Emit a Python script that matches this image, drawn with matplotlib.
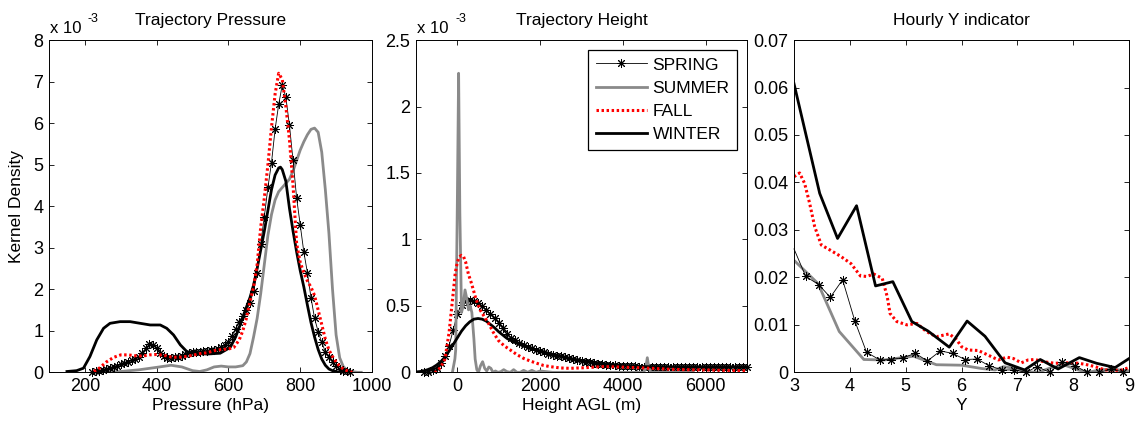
import matplotlib
matplotlib.use('Agg')
import matplotlib.pyplot as plt

plt.rcParams['font.family'] = ['Liberation Sans', 'DejaVu Sans']

# ---------------- Trajectory Pressure (density in units of 1e-3) ----------------
pres_spring_x = [220, 230, 240, 250, 260, 270, 280, 290, 300, 310, 320, 330, 340, 350, 360,
                 370, 380, 390, 400, 410, 420, 430, 440, 450, 460, 470, 480, 490, 500, 510,
                 520, 530, 540, 550, 560, 570, 580, 590, 600, 610, 620, 630, 640, 650, 660,
                 670, 680, 690, 700, 710, 720, 730, 740, 750, 760, 770, 780, 790, 800, 810,
                 820, 830, 840, 850, 860, 870, 880, 890, 900, 910, 920, 930, 940]
pres_spring_y = [0.00, 0.02, 0.04, 0.05, 0.07, 0.10, 0.13, 0.16, 0.19, 0.22, 0.25, 0.29, 0.33, 0.38, 0.47,
                 0.58, 0.67, 0.66, 0.58, 0.47, 0.39, 0.35, 0.35, 0.36, 0.37, 0.40, 0.44, 0.47, 0.48, 0.49,
                 0.50, 0.51, 0.52, 0.53, 0.54, 0.56, 0.60, 0.66, 0.74, 0.88, 1.05, 1.20, 1.35, 1.50, 1.68,
                 1.95, 2.40, 3.10, 3.75, 4.45, 5.05, 5.85, 6.45, 6.92, 6.62, 5.95, 5.10, 4.20, 3.55, 2.90,
                 2.40, 1.80, 1.30, 0.98, 0.72, 0.50, 0.36, 0.25, 0.16, 0.09, 0.04, 0.02, 0.01]

pres_summer_x = [250, 300, 350, 400, 440, 470, 500, 520, 540, 560, 580, 600, 620, 640, 650, 660,
                 670, 680, 690, 700, 710, 720, 730, 740, 750, 760, 770, 780, 790, 800, 810, 820,
                 830, 840, 850, 860, 870, 880, 890, 900, 910, 920, 930, 940, 960, 970]
pres_summer_y = [0.0, 0.02, 0.06, 0.12, 0.17, 0.13, 0.04, 0.02, 0.06, 0.13, 0.15, 0.13, 0.13, 0.16, 0.25, 0.45,
                 0.85, 1.3, 1.9, 2.6, 3.3, 3.8, 4.15, 4.35, 4.45, 4.55, 4.65, 4.85, 5.1, 5.35, 5.55, 5.72,
                 5.85, 5.88, 5.78, 5.3, 4.4, 3.35, 2.0, 0.9, 0.35, 0.14, 0.05, 0.02, 0.0, 0.0]

pres_fall_x = [225, 240, 260, 280, 300, 320, 340, 360, 380, 400, 420, 440, 460, 480, 500, 520, 540,
               560, 580, 600, 615, 630, 640, 650, 660, 670, 680, 690, 700, 710, 720, 730, 740, 750,
               760, 770, 780, 790, 800, 810, 820, 830, 840, 850, 860, 870, 880, 890, 900, 910, 920,
               930, 945]
pres_fall_y = [0.02, 0.1, 0.25, 0.36, 0.42, 0.42, 0.40, 0.39, 0.42, 0.43, 0.41, 0.37, 0.36, 0.38, 0.41, 0.45, 0.47,
               0.52, 0.55, 0.56, 0.60, 0.78, 1.0, 1.3, 1.7, 2.05, 2.6, 3.5, 4.2, 5.0, 5.9, 6.7, 7.2, 7.05,
               6.4, 5.6, 4.5, 3.1, 2.65, 2.4, 2.2, 2.05, 1.85, 1.5, 1.15, 0.8, 0.54, 0.38, 0.25, 0.15, 0.08,
               0.04, 0.0]

pres_winter_x = [150, 177, 196, 214, 233, 252, 270, 298, 326, 354, 382, 410, 428, 447, 466, 484, 503,
                 540, 577, 605, 620, 633, 645, 660, 670, 680, 690, 700, 710, 720, 730, 740, 745, 750,
                 760, 770, 780, 790, 800, 810, 820, 830, 840, 850, 860, 870, 880, 890, 900, 910]
pres_winter_y = [0.02, 0.04, 0.1, 0.38, 0.78, 1.06, 1.18, 1.22, 1.22, 1.18, 1.14, 1.14, 1.06, 0.9, 0.66, 0.5, 0.46,
                 0.44, 0.46, 0.6, 0.85, 1.15, 1.45, 1.8, 2.1, 2.5, 2.95, 3.4, 3.9, 4.4, 4.75, 4.92, 4.94, 4.88,
                 4.6, 3.95, 3.4, 2.9, 2.45, 2.06, 1.62, 1.2, 0.85, 0.55, 0.32, 0.17, 0.08, 0.04, 0.02, 0.0]

# ---------------- Trajectory Height (density in units of 1e-3) ----------------
hgt_spring_x = [-800, -700, -600, -500, -400, -300, -200, -100, 0, 100, 200, 300, 400, 500, 600, 700,
                800, 900, 1000, 1100, 1200, 1300, 1400, 1500, 1600, 1700, 1800, 1900, 2000, 2100, 2200,
                2300, 2400, 2500, 2600, 2700, 2800, 2900, 3000, 3100, 3200, 3300, 3400, 3500, 3600, 3700,
                3800, 3900, 4000, 4100, 4200, 4300, 4400, 4500, 4600, 4700, 4800, 4900, 5000, 5100, 5200,
                5300, 5400, 5500, 5600, 5700, 5800, 5900, 6000, 6100, 6200, 6300, 6400, 6500, 6600, 6700,
                6800, 6900, 7000]
hgt_spring_y = [0.0, 0.005, 0.015, 0.035, 0.07, 0.12, 0.2, 0.32, 0.44, 0.51, 0.54, 0.545, 0.54, 0.52, 0.5, 0.47,
                0.44, 0.41, 0.37, 0.33, 0.29, 0.26, 0.24, 0.22, 0.205, 0.19, 0.18, 0.17, 0.16, 0.15, 0.14,
                0.133, 0.126, 0.12, 0.113, 0.106, 0.099, 0.092, 0.086, 0.08, 0.075, 0.07, 0.066, 0.062, 0.058, 0.055,
                0.052, 0.05, 0.048, 0.046, 0.045, 0.044, 0.043, 0.042, 0.041, 0.04, 0.039, 0.038, 0.038, 0.038, 0.038,
                0.038, 0.039, 0.04, 0.041, 0.042, 0.043, 0.043, 0.043, 0.043, 0.043, 0.043, 0.043, 0.043, 0.043, 0.043,
                0.042, 0.042, 0.041]

hgt_summer_x = [-120, -60, -40, 0, 30, 60, 100, 140, 185, 230, 270, 310, 350, 400, 430, 470, 510, 560,
                610, 660, 710, 760, 810, 860, 920, 980, 1050, 1120, 1200, 1280, 1360, 1440, 1520, 1600,
                1700, 1800, 1900, 2000, 2300, 3000, 4000, 4500, 4550, 4590, 4630, 4680, 5000, 5700]
hgt_summer_y = [0.0, 0.1, 0.17, 1.3, 2.25, 1.2, 0.45, 0.5, 0.62, 0.55, 0.47, 0.5, 0.45, 0.25, 0.1, 0.02, 0.0, 0.05,
                0.08, 0.03, 0.01, 0.04, 0.03, 0.0, 0.01, 0.0, 0.005, 0.02, 0.005, 0.0, 0.02, 0.0, 0.0, 0.015,
                0.0, 0.015, 0.0, 0.01, 0.0, 0.0, 0.0, 0.0, 0.03, 0.11, 0.03, 0.0, 0.0, 0.0]

hgt_fall_x = [-550, -500, -400, -300, -200, -150, -100, -50, 0, 50, 100, 150, 200, 266, 330, 387, 450,
              548, 650, 750, 870, 990, 1130, 1270, 1430, 1600, 1760, 1920, 2080, 2240, 2480, 2720, 3100,
              3530, 3900, 4340, 4700, 5130, 5500, 5940, 6400, 6750, 7000]
hgt_fall_y = [0.0, 0.005, 0.04, 0.1, 0.3, 0.45, 0.6, 0.75, 0.83, 0.87, 0.88, 0.87, 0.83, 0.74, 0.68, 0.62, 0.55,
              0.47, 0.42, 0.37, 0.3, 0.24, 0.2, 0.17, 0.135, 0.105, 0.085, 0.068, 0.052, 0.043, 0.033, 0.03, 0.035,
              0.043, 0.04, 0.035, 0.03, 0.023, 0.02, 0.018, 0.015, 0.013, 0.012]

hgt_winter_x = [-1000, -900, -800, -700, -600, -500, -400, -300, -200, -100, 0, 100, 200, 300, 400, 500,
                600, 700, 800, 900, 1000, 1100, 1200, 1350, 1500, 1760, 2000, 2250, 2500, 2750, 3000, 3500,
                4000, 4500, 5000, 5500, 6000, 6500, 7000]
hgt_winter_y = [0.003, 0.006, 0.012, 0.022, 0.035, 0.055, 0.08, 0.115, 0.16, 0.21, 0.26, 0.31, 0.35, 0.38, 0.4, 0.405,
                0.4, 0.385, 0.36, 0.335, 0.305, 0.28, 0.255, 0.23, 0.21, 0.18, 0.16, 0.14, 0.12, 0.1, 0.09, 0.066,
                0.05, 0.043, 0.04, 0.04, 0.04, 0.04, 0.04]

# ---------------- Hourly Y indicator ----------------
y_spring_x = [3.0, 3.21, 3.44, 3.65, 3.87, 4.09, 4.30, 4.54, 4.74, 4.96, 5.17, 5.39, 5.62, 5.84,
              6.06, 6.28, 6.49, 6.73, 6.94, 7.16, 7.35, 7.58, 7.80, 8.03, 8.25, 8.46, 8.68, 8.89]
y_spring_y = [0.026, 0.0202, 0.0185, 0.0158, 0.0195, 0.0108, 0.0042, 0.0026, 0.0027, 0.0031, 0.004, 0.0024,
              0.0045, 0.004, 0.0027, 0.0028, 0.0014, 0.0005, 0.0005, 0.0, 0.0012, 0.0, 0.0022, 0.0014, 0.0,
              0.0, 0.0006, 0.0001]

y_summer_x = [3.0, 3.43, 3.81, 4.25, 4.61, 5.14, 5.55, 6.0, 6.36, 6.6, 6.75, 6.96, 7.19, 7.37, 7.61,
              7.85, 8.09, 8.27, 8.51, 8.75, 9.0]
y_summer_y = [0.0236, 0.0187, 0.0086, 0.0027, 0.0026, 0.0034, 0.0016, 0.0015, 0.0008, 0.0005, 0.0012,
              0.0008, 0.0001, 0.0, 0.001, 0.0015, 0.0005, 0.0, 0.0006, 0.0006, 0.0003]

y_fall_x = [3.0, 3.1, 3.19, 3.28, 3.37, 3.49, 3.64, 3.84, 4.02, 4.19, 4.3, 4.43, 4.58, 4.67, 4.72, 4.84,
            5.02, 5.2, 5.37, 5.55, 5.78, 5.91, 6.0, 6.12, 6.3, 6.48, 6.66, 6.81, 6.93, 7.07, 7.19, 7.31,
            7.49, 7.67, 7.85, 8.03, 8.21, 8.39, 8.57, 8.75, 8.87, 9.0]
y_fall_y = [0.0412, 0.042, 0.0398, 0.0356, 0.0307, 0.0268, 0.0258, 0.0244, 0.0229, 0.0203, 0.0202, 0.0207,
            0.0198, 0.0159, 0.0124, 0.0107, 0.0100, 0.0103, 0.0086, 0.0075, 0.0081, 0.0069, 0.0054, 0.0047,
            0.0046, 0.0036, 0.0026, 0.0032, 0.0029, 0.0020, 0.0026, 0.0027, 0.0022, 0.0019, 0.0020, 0.0020,
            0.0017, 0.0012, 0.0005, 0.0004, 0.0005, 0.0010]

y_winter_x = [3.0, 3.46, 3.78, 4.12, 4.46, 4.77, 5.11, 5.4, 5.78, 6.1, 6.42, 6.78, 7.13, 7.41, 7.73,
              8.11, 8.42, 8.75, 9.0]
y_winter_y = [0.0608, 0.0377, 0.0282, 0.0351, 0.0182, 0.0191, 0.0107, 0.0087, 0.0053, 0.0108, 0.0076,
              0.002, 0.0005, 0.0027, 0.0007, 0.0031, 0.0019, 0.001, 0.0029]

# line styles (MATLAB-like)
STAR = (8, 2, 0)
GREY = '#8a8a8a'
spring_kw = dict(color='k', lw=0.6, marker=STAR, markersize=6.5, markeredgewidth=0.7, clip_on=False)
summer_kw = dict(color=GREY, lw=2.0)
fall_kw = dict(color='red', lw=2.2, linestyle=(0, (0.8, 0.85)))
winter_kw = dict(color='k', lw=2.0)

FS = 13


def style_axes(ax):
    ax.tick_params(direction='in', top=True, right=True, length=3.5, width=0.6,
                   labelsize=FS, pad=4, colors='k')
    for s in ax.spines.values():
        s.set_linewidth(0.7)


def exponent_label(ax):
    ax.text(0.003, 1.012, 'x 10', transform=ax.transAxes, ha='left', va='bottom', fontsize=12)
    ax.text(0.118, 1.045, '-3', transform=ax.transAxes, ha='left', va='bottom', fontsize=9)


fig = plt.figure(figsize=(11.4, 4.26), dpi=100)
ax1 = fig.add_axes([0.0430, 0.126, 0.2833, 0.780])
ax2 = fig.add_axes([0.3649, 0.126, 0.2904, 0.780])
ax3 = fig.add_axes([0.6965, 0.126, 0.2939, 0.780])

# Pressure
ax1.plot(pres_summer_x, pres_summer_y, **summer_kw)
ax1.plot(pres_winter_x, pres_winter_y, **winter_kw)
ax1.plot(pres_spring_x, pres_spring_y, **spring_kw)
ax1.plot(pres_fall_x, pres_fall_y, **fall_kw)
ax1.set_xlim(100, 1000)
ax1.set_ylim(0, 8)
ax1.set_xticks([200, 400, 600, 800, 1000])
ax1.set_yticks(range(0, 9))
ax1.set_title('Trajectory Pressure', fontsize=12.5, pad=11)
ax1.set_xlabel('Pressure (hPa)', fontsize=12.5, labelpad=2)
ax1.set_ylabel('Kernel Density', fontsize=12.5, labelpad=7)
style_axes(ax1)
exponent_label(ax1)

# Height
h_spring, = ax2.plot(hgt_spring_x, hgt_spring_y, **spring_kw)
h_summer, = ax2.plot(hgt_summer_x, hgt_summer_y, **summer_kw)
h_winter, = ax2.plot(hgt_winter_x, hgt_winter_y, **winter_kw)
h_fall, = ax2.plot(hgt_fall_x, hgt_fall_y, **fall_kw)
ax2.set_xlim(-1000, 7000)
ax2.set_ylim(0, 2.5)
ax2.set_xticks([0, 2000, 4000, 6000])
ax2.set_yticks([0, 0.5, 1, 1.5, 2, 2.5])
ax2.set_yticklabels(['0', '0.5', '1', '1.5', '2', '2.5'])
ax2.set_title('Trajectory Height', fontsize=12.5, pad=11)
ax2.set_xlabel('Height AGL (m)', fontsize=12.5, labelpad=2)
style_axes(ax2)
exponent_label(ax2)

leg = ax2.legend([h_spring, h_summer, h_fall, h_winter], ['SPRING', 'SUMMER', 'FALL', 'WINTER'],
                 loc='upper right', fontsize=12.5, frameon=True, fancybox=False, framealpha=1,
                 edgecolor='k', handlelength=2.9, handletextpad=0.35, labelspacing=0.47,
                 borderpad=0.45, borderaxespad=0.55, markerscale=1.0)
leg.get_frame().set_linewidth(0.9)
leg.legend_handles[0].set_markevery([1])

# Hourly Y indicator
ax3.plot(y_summer_x, y_summer_y, **summer_kw)
ax3.plot(y_fall_x, y_fall_y, **fall_kw)
ax3.plot(y_winter_x, y_winter_y, **winter_kw)
ax3.plot(y_spring_x, y_spring_y, markevery=list(range(1, len(y_spring_x))), **spring_kw)
ax3.set_xlim(3, 9)
ax3.set_ylim(0, 0.07)
ax3.set_xticks(range(3, 10))
ax3.set_yticks([0, 0.01, 0.02, 0.03, 0.04, 0.05, 0.06, 0.07])
ax3.set_yticklabels(['0', '0.01', '0.02', '0.03', '0.04', '0.05', '0.06', '0.07'])
ax3.set_title('Hourly Y indicator', fontsize=12.5, pad=11)
ax3.set_xlabel('Y', fontsize=12.5, labelpad=2)
style_axes(ax3)

fig.savefig('out.png', dpi=100)
